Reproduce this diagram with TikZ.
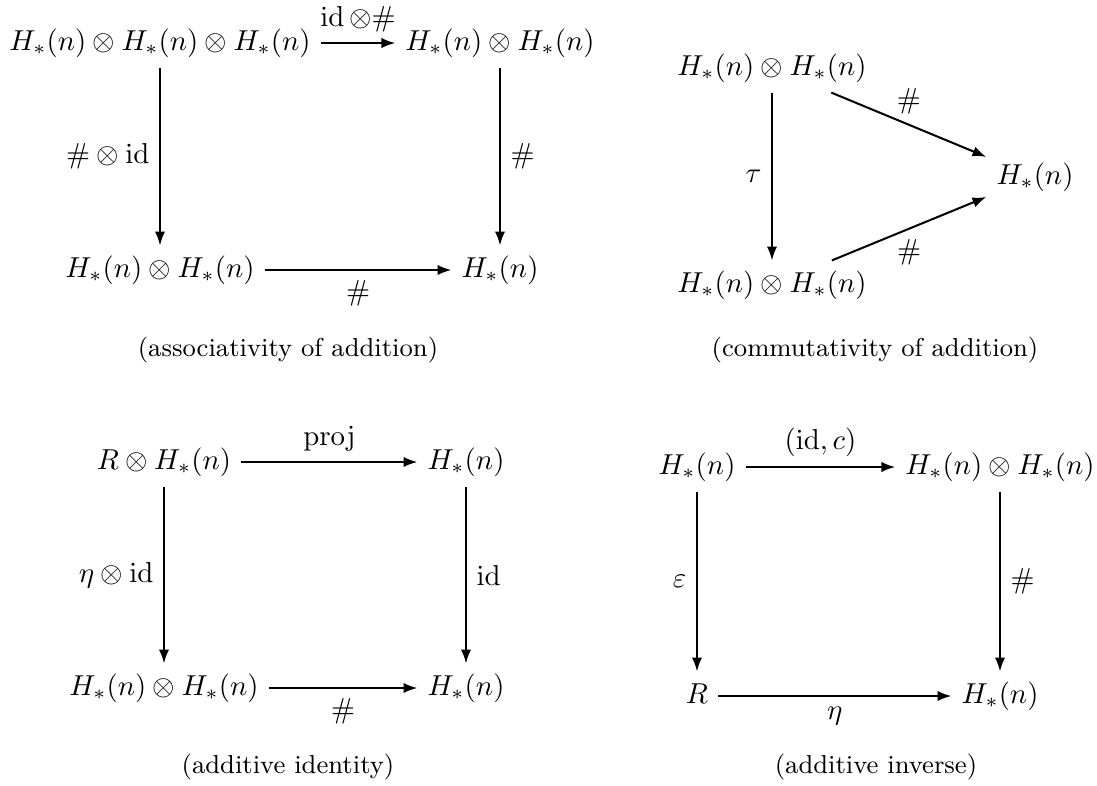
\documentclass[tikz,border=0pt]{standalone}
\usetikzlibrary{arrows.meta}
\begin{document}
\begin{tikzpicture}[x=0.347pt,y=-0.347pt,
  obj/.style={text height=7.5pt,text depth=2.5pt,inner sep=3.333pt},
  arr/.style={-{Latex[length=4.8pt,width=3.6pt]},line width=0.7pt},
  lbl/.style={inner sep=3.333pt},
  caption/.style={font=\small,text height=7pt,text depth=2.3pt,inner sep=0pt}]
\useasboundingbox (0,0) rectangle (1097,785);
% ---- associativity ----
\node[obj] (A) at (160,43) {$H_*(n)\otimes H_*(n)\otimes H_*(n)$};
\node[obj] (B) at (500,43) {$H_*(n)\otimes H_*(n)$};
\node[obj] (C) at (160,270) {$H_*(n)\otimes H_*(n)$};
\node[obj] (D) at (500,270) {$H_*(n)$};
\draw[arr] (A) -- node[lbl,above] {$\mathrm{id}\,{\otimes}\#$} (B);
\draw[arr] (A) -- node[lbl,left] {$\#\otimes\mathrm{id}$} (C);
\draw[arr] (B) -- node[lbl,right] {$\#$} (D);
\draw[arr] (C) -- node[lbl,below] {$\#$} (D);
\node[caption] (cap1) at (288,350) {(associativity of addition)};
% ---- commutativity ----
\node[obj] (E) at (772,68) {$H_*(n)\otimes H_*(n)$};
\node[obj] (F) at (772,285) {$H_*(n)\otimes H_*(n)$};
\node[obj] (G) at (1035,177) {$H_*(n)$};
\draw[arr] (E) -- node[lbl,left] {$\tau$} (F);
\draw[arr] (E) -- node[lbl,above] {$\#$} (G);
\draw[arr] (F) -- node[lbl,below] {$\#$} (G);
\node[caption] (cap2) at (875,350) {(commutativity of addition)};
% ---- additive identity ----
\node[obj] (H) at (164,462) {$R\otimes H_*(n)$};
\node[obj] (I) at (466,462) {$H_*(n)$};
\node[obj] (J) at (164,688) {$H_*(n)\otimes H_*(n)$};
\node[obj] (K) at (466,688) {$H_*(n)$};
\draw[arr] (H) -- node[lbl,above] {$\mathrm{proj}$} (I);
\draw[arr] (H) -- node[lbl,left] {$\eta\otimes\mathrm{id}$} (J);
\draw[arr] (I) -- node[lbl,right] {$\mathrm{id}$} (K);
\draw[arr] (J) -- node[lbl,below] {$\#$} (K);
\node[caption] (cap3) at (288,767) {(additive identity)};
% ---- additive inverse ----
\node[obj] (L) at (697,467) {$H_*(n)$};
\node[obj] (M) at (1000,467) {$H_*(n)\otimes H_*(n)$};
\node[obj] (N) at (697,696) {$R$};
\node[obj] (O) at (1000,696) {$H_*(n)$};
\draw[arr] (L) -- node[lbl,above] {$(\mathrm{id},c)$} (M);
\draw[arr] (L) -- node[lbl,left] {$\varepsilon$} (N);
\draw[arr] (M) -- node[lbl,right] {$\#$} (O);
\draw[arr] (N) -- node[lbl,below] {$\eta$} (O);
\node[caption] (cap4) at (876,767) {(additive inverse)};
\end{tikzpicture}
\end{document}
